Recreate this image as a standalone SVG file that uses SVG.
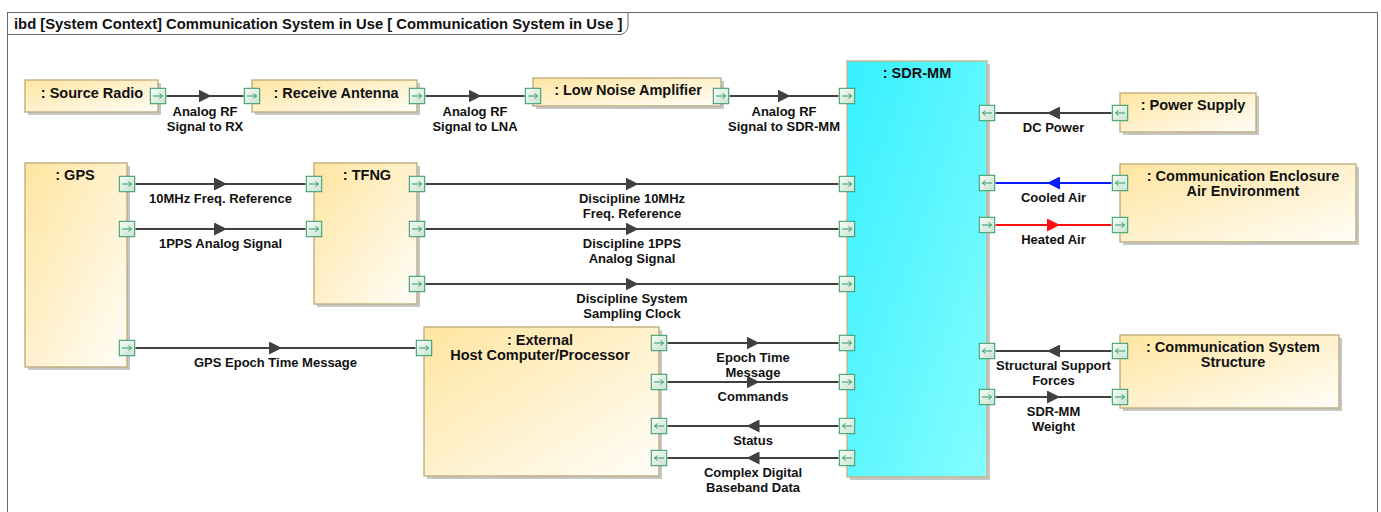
<svg xmlns="http://www.w3.org/2000/svg" width="1381" height="512" viewBox="0 0 1381 512">
  <style>
    text { font-family: "Liberation Sans", Arial, sans-serif; font-weight: bold; fill: #111; }
    .title { font-size: 14.8px; }
    .name { font-size: 14.5px; text-anchor: middle; }
    .lbl { font-size: 13px; text-anchor: middle; }
    .part { fill: url(#partFill); stroke: #bfae7e; stroke-width: 1.4; }
    .sdr { fill: url(#sdrFill); stroke: #c8b48a; stroke-width: 1.4; }
    .shadow { fill: #a0a0a0; opacity: 0.6; }
    .flow { fill: none; stroke: #404040; stroke-width: 2; marker-mid: url(#tri); }
    .flow.cool { stroke: #0a1cff; marker-mid: url(#triBlue); }
    .flow.hot { stroke: #ff1010; marker-mid: url(#triRed); }
  </style>
  <defs>
    <linearGradient id="partFill" x1="0" y1="0" x2="1" y2="1">
      <stop offset="0" stop-color="#ffe5a0"/>
      <stop offset="1" stop-color="#fffdf8"/>
    </linearGradient>
    <linearGradient id="sdrFill" x1="0" y1="0" x2="1" y2="1">
      <stop offset="0" stop-color="#36f0ff"/>
      <stop offset="1" stop-color="#85fdff"/>
    </linearGradient>
    <linearGradient id="portFill" x1="0" y1="0" x2="1" y2="1">
      <stop offset="0" stop-color="#f8fcf9"/>
      <stop offset="1" stop-color="#c8e2d2"/>
    </linearGradient>
    <marker id="tri" markerUnits="userSpaceOnUse" markerWidth="13" markerHeight="13" viewBox="0 0 13 13" refX="6.5" refY="6.5" orient="auto">
      <path d="M0,0 L13,6.5 L0,13 z" fill="#404040"/>
    </marker>
    <marker id="triBlue" markerUnits="userSpaceOnUse" markerWidth="13" markerHeight="13" viewBox="0 0 13 13" refX="6.5" refY="6.5" orient="auto">
      <path d="M0,0 L13,6.5 L0,13 z" fill="#0a1cff"/>
    </marker>
    <marker id="triRed" markerUnits="userSpaceOnUse" markerWidth="13" markerHeight="13" viewBox="0 0 13 13" refX="6.5" refY="6.5" orient="auto">
      <path d="M0,0 L13,6.5 L0,13 z" fill="#ff1010"/>
    </marker>
    <!-- flow ports: pR = flow to the right, pL = flow to the left -->
    <symbol id="pR" viewBox="0 0 17 17" width="17" height="17">
      <rect x="0.7" y="0.7" width="15.6" height="15.6" fill="url(#portFill)" stroke="#3d9f6d" stroke-width="1.3"/>
      <path d="M3.5,8.5 H13 M10,6 L13,8.5 L10,11" fill="none" stroke="#2e9a60" stroke-width="1"/>
    </symbol>
    <symbol id="pL" viewBox="0 0 17 17" width="17" height="17">
      <rect x="0.7" y="0.7" width="15.6" height="15.6" fill="url(#portFill)" stroke="#3d9f6d" stroke-width="1.3"/>
      <path d="M13.5,8.5 H4 M7,6 L4,8.5 L7,11" fill="none" stroke="#2e9a60" stroke-width="1"/>
    </symbol>
  </defs>

  <!-- diagram frame -->
  <g id="frame">
    <rect x="7.5" y="12.5" width="1370" height="520" fill="#ffffff" stroke="#666" stroke-width="1"/>
    <path d="M7.5,34.5 H621 Q628,32 628,26 V12.5" fill="none" stroke="#666" stroke-width="1"/>
    <text class="title" x="14" y="29">ibd [System Context] Communication System in Use [ Communication System in Use ]</text>
  </g>

  <!-- connectors -->
  <g id="connectors">
    <path class="flow" d="M166.5,96 L205,96 L243.5,96"/>
    <path class="flow" d="M425.5,96 L475,96 L524.5,96"/>
    <path class="flow" d="M729.5,96 L784,96 L838.5,96"/>
    <path class="flow" d="M1111.5,113 L1053.5,113 L995.5,113"/>
    <path class="flow cool" d="M1111.5,183 L1053.5,183 L995.5,183"/>
    <path class="flow hot" d="M995.5,225 L1053.5,225 L1111.5,225"/>
    <path class="flow" d="M135.5,184 L220.5,184 L305.5,184"/>
    <path class="flow" d="M135.5,229 L220.5,229 L305.5,229"/>
    <path class="flow" d="M425.5,184 L632,184 L838.5,184"/>
    <path class="flow" d="M425.5,229 L632,229 L838.5,229"/>
    <path class="flow" d="M425.5,284 L632,284 L838.5,284"/>
    <path class="flow" d="M135.5,348 L275.5,348 L415.5,348"/>
    <path class="flow" d="M667.5,343 L753,343 L838.5,343"/>
    <path class="flow" d="M667.5,382 L753,382 L838.5,382"/>
    <path class="flow" d="M838.5,426 L753,426 L667.5,426"/>
    <path class="flow" d="M838.5,458 L753,458 L667.5,458"/>
    <path class="flow" d="M1111.5,351 L1053.5,351 L995.5,351"/>
    <path class="flow" d="M995.5,397 L1053.5,397 L1111.5,397"/>

    <text class="lbl" x="205" y="116">Analog RF</text>
    <text class="lbl" x="205" y="131">Signal to RX</text>
    <text class="lbl" x="475" y="116">Analog RF</text>
    <text class="lbl" x="475" y="131">Signal to LNA</text>
    <text class="lbl" x="784" y="116">Analog RF</text>
    <text class="lbl" x="784" y="131">Signal to SDR-MM</text>
    <text class="lbl" x="1053.5" y="132">DC Power</text>
    <text class="lbl" x="1053.5" y="202">Cooled Air</text>
    <text class="lbl" x="1053.5" y="244">Heated Air</text>
    <text class="lbl" x="220.5" y="203">10MHz Freq. Reference</text>
    <text class="lbl" x="220.5" y="248">1PPS Analog Signal</text>
    <text class="lbl" x="632" y="203">Discipline 10MHz</text>
    <text class="lbl" x="632" y="218">Freq. Reference</text>
    <text class="lbl" x="632" y="248">Discipline 1PPS</text>
    <text class="lbl" x="632" y="263">Analog Signal</text>
    <text class="lbl" x="632" y="303">Discipline System</text>
    <text class="lbl" x="632" y="318">Sampling Clock</text>
    <text class="lbl" x="275.5" y="367">GPS Epoch Time Message</text>
    <text class="lbl" x="753" y="362">Epoch Time</text>
    <text class="lbl" x="753" y="377">Message</text>
    <text class="lbl" x="753" y="401">Commands</text>
    <text class="lbl" x="753" y="445">Status</text>
    <text class="lbl" x="753" y="477">Complex Digital</text>
    <text class="lbl" x="753" y="492">Baseband Data</text>
    <text class="lbl" x="1053.5" y="370">Structural Support</text>
    <text class="lbl" x="1053.5" y="385">Forces</text>
    <text class="lbl" x="1053.5" y="416">SDR-MM</text>
    <text class="lbl" x="1053.5" y="431">Weight</text>
  </g>

  <!-- parts -->
  <g id="source-radio">
    <rect class="shadow" x="28" y="83" width="133" height="32"/>
    <rect class="part" x="25" y="80" width="133" height="32"/>
    <text class="name" x="92" y="98">: Source Radio</text>
    <use href="#pR" x="149.5" y="87.5"/>
  </g>

  <g id="receive-antenna">
    <rect class="shadow" x="255" y="83" width="165" height="32"/>
    <rect class="part" x="252" y="80" width="165" height="32"/>
    <text class="name" x="336" y="98">: Receive Antenna</text>
    <use href="#pR" x="243.5" y="87.5"/>
    <use href="#pR" x="408.5" y="87.5"/>
  </g>

  <g id="low-noise-amplifier">
    <rect class="shadow" x="536" y="81" width="188" height="28"/>
    <rect class="part" x="533" y="78" width="188" height="28"/>
    <text class="name" x="628" y="95">: Low Noise Amplifier</text>
    <use href="#pR" x="524.5" y="87.5"/>
    <use href="#pR" x="712.5" y="87.5"/>
  </g>

  <g id="sdr-mm">
    <rect class="shadow" x="850" y="64" width="140" height="416"/>
    <rect class="sdr" x="847" y="61" width="140" height="416"/>
    <text class="name" x="917" y="78">: SDR-MM</text>
    <use href="#pR" x="838.5" y="87.5"/>
    <use href="#pR" x="838.5" y="175.5"/>
    <use href="#pR" x="838.5" y="220.5"/>
    <use href="#pR" x="838.5" y="275.5"/>
    <use href="#pR" x="838.5" y="334.5"/>
    <use href="#pR" x="838.5" y="373.5"/>
    <use href="#pL" x="838.5" y="417.5"/>
    <use href="#pL" x="838.5" y="449.5"/>
    <use href="#pL" x="978.5" y="104.5"/>
    <use href="#pL" x="978.5" y="174.5"/>
    <use href="#pR" x="978.5" y="216.5"/>
    <use href="#pL" x="978.5" y="342.5"/>
    <use href="#pR" x="978.5" y="388.5"/>
  </g>

  <g id="power-supply">
    <rect class="shadow" x="1123" y="96" width="136" height="39"/>
    <rect class="part" x="1120" y="93" width="136" height="39"/>
    <text class="name" x="1193" y="110">: Power Supply</text>
    <use href="#pL" x="1111.5" y="104.5"/>
  </g>

  <g id="enclosure-air">
    <rect class="shadow" x="1123" y="167" width="236" height="78"/>
    <rect class="part" x="1120" y="164" width="236" height="78"/>
    <text class="name" x="1243" y="181">: Communication Enclosure</text>
    <text class="name" x="1243" y="196">Air Environment</text>
    <use href="#pL" x="1111.5" y="174.5"/>
    <use href="#pR" x="1111.5" y="216.5"/>
  </g>

  <g id="gps">
    <rect class="shadow" x="28" y="166" width="102" height="204"/>
    <rect class="part" x="25" y="163" width="102" height="204"/>
    <text class="name" x="75" y="180">: GPS</text>
    <use href="#pR" x="118.5" y="175.5"/>
    <use href="#pR" x="118.5" y="220.5"/>
    <use href="#pR" x="118.5" y="339.5"/>
  </g>

  <g id="tfng">
    <rect class="shadow" x="317" y="166" width="103" height="141"/>
    <rect class="part" x="314" y="163" width="103" height="141"/>
    <text class="name" x="367" y="180">: TFNG</text>
    <use href="#pR" x="305.5" y="175.5"/>
    <use href="#pR" x="305.5" y="220.5"/>
    <use href="#pR" x="408.5" y="175.5"/>
    <use href="#pR" x="408.5" y="220.5"/>
    <use href="#pR" x="408.5" y="275.5"/>
  </g>

  <g id="host-computer">
    <rect class="shadow" x="427" y="330" width="235" height="149"/>
    <rect class="part" x="424" y="327" width="235" height="149"/>
    <text class="name" x="540" y="345">: External</text>
    <text class="name" x="540" y="360">Host Computer/Processor</text>
    <use href="#pR" x="415.5" y="339.5"/>
    <use href="#pR" x="650.5" y="334.5"/>
    <use href="#pR" x="650.5" y="373.5"/>
    <use href="#pL" x="650.5" y="417.5"/>
    <use href="#pL" x="650.5" y="449.5"/>
  </g>

  <g id="system-structure">
    <rect class="shadow" x="1123" y="338" width="219" height="73"/>
    <rect class="part" x="1120" y="335" width="219" height="73"/>
    <text class="name" x="1233" y="352">: Communication System</text>
    <text class="name" x="1233" y="367">Structure</text>
    <use href="#pL" x="1111.5" y="342.5"/>
    <use href="#pR" x="1111.5" y="388.5"/>
  </g>
</svg>
